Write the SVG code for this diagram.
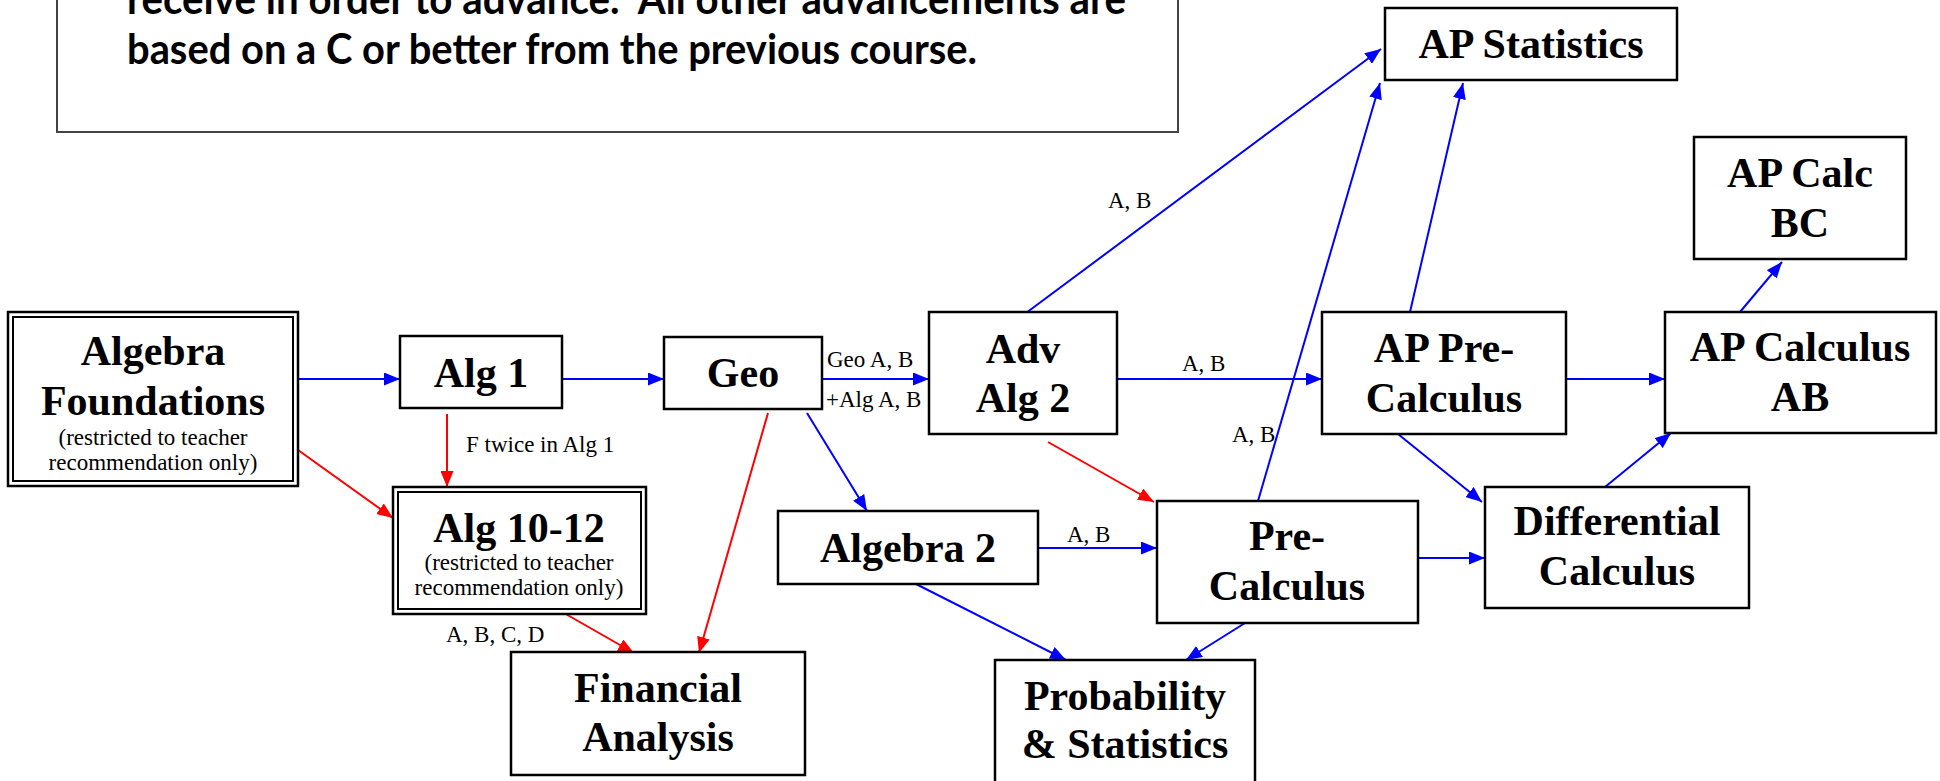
<svg xmlns="http://www.w3.org/2000/svg" width="1940" height="781" viewBox="0 0 1940 781">
<defs>
<style>
.box{fill:#fff;stroke:#000;stroke-width:2.5}
.note{fill:#fff;stroke:#444;stroke-width:2}
.t{font-family:"Liberation Serif","Times New Roman",serif;font-weight:bold;font-size:42px;text-anchor:middle;fill:#000}
.s{font-family:"Liberation Serif","Times New Roman",serif;font-size:23px;text-anchor:middle;fill:#000}
.l{font-family:"Liberation Serif","Times New Roman",serif;font-size:23px;fill:#000}
.n{font-family:Lato,"Open Sans",sans-serif;font-weight:bold;font-size:42px;fill:#000}
.b{stroke:#0000ff;stroke-width:2;fill:none;marker-end:url(#ab)}
.r{stroke:#ff0000;stroke-width:2;fill:none;marker-end:url(#ar)}
</style>
<marker id="ab" markerUnits="userSpaceOnUse" markerWidth="16" markerHeight="13" refX="16" refY="6.5" orient="auto"><path d="M0,0 L16,6.5 L0,13 z" fill="#0000ff"/></marker>
<marker id="ar" markerUnits="userSpaceOnUse" markerWidth="16" markerHeight="13" refX="16" refY="6.5" orient="auto"><path d="M0,0 L16,6.5 L0,13 z" fill="#ff0000"/></marker>
</defs>
<rect width="1940" height="781" fill="#fff"/>

<g id="note">
<rect class="note" x="57" y="-10" width="1121" height="142"/>
<text class="n" x="127" y="14" textLength="999" lengthAdjust="spacingAndGlyphs">receive in order to advance.&#160; All other advancements are</text>
<text class="n" x="127" y="64" textLength="850" lengthAdjust="spacingAndGlyphs">based on a C or better from the previous course.</text>
</g>

<g id="connectors">
<line class="b" x1="298" y1="379" x2="400" y2="379"/>
<line class="b" x1="562" y1="379" x2="664" y2="379"/>
<line class="b" x1="822" y1="379" x2="929" y2="379"/>
<line class="b" x1="1117" y1="379" x2="1322" y2="379"/>
<line class="b" x1="1566" y1="379" x2="1665" y2="379"/>
<line class="b" x1="807" y1="413" x2="867" y2="511"/>
<line class="b" x1="1038" y1="548" x2="1157" y2="548"/>
<line class="b" x1="1418" y1="558" x2="1485" y2="558"/>
<line class="b" x1="916" y1="584" x2="1066" y2="660"/>
<line class="b" x1="1245" y1="623" x2="1186" y2="660"/>
<line class="b" x1="1026" y1="313" x2="1381" y2="49"/>
<line class="b" x1="1258" y1="501" x2="1380" y2="83"/>
<line class="b" x1="1410" y1="312" x2="1463" y2="83"/>
<line class="b" x1="1398" y1="434" x2="1482" y2="502"/>
<line class="b" x1="1605" y1="487" x2="1671" y2="433"/>
<line class="b" x1="1740" y1="312" x2="1782" y2="262"/>
<line class="r" x1="447" y1="414" x2="447" y2="487"/>
<line class="r" x1="298" y1="450" x2="393" y2="518"/>
<line class="r" x1="564" y1="613" x2="634" y2="653"/>
<line class="r" x1="768" y1="413" x2="699" y2="653"/>
<line class="r" x1="1048" y1="442" x2="1154" y2="502"/>
<text class="l" x="827" y="367">Geo A, B</text>
<text class="l" x="826" y="407">+Alg A, B</text>
<text class="l" x="1182" y="371">A, B</text>
<text class="l" x="1108" y="208">A, B</text>
<text class="l" x="1232" y="442">A, B</text>
<text class="l" x="1067" y="542">A, B</text>
<text class="l" x="466" y="452">F twice in Alg 1</text>
<text class="l" x="446" y="642">A, B, C, D</text>
</g>

<g id="algebra-foundations">
<rect class="box" x="8" y="312" width="290" height="174"/>
<rect fill="none" stroke="#000" stroke-width="2" x="13" y="317" width="280" height="164"/>
<text class="t" x="153" y="365">Algebra</text>
<text class="t" x="153" y="415">Foundations</text>
<text class="s" x="153" y="445">(restricted to teacher</text>
<text class="s" x="153" y="470">recommendation only)</text>
</g>

<g id="alg1">
<rect class="box" x="400" y="336" width="162" height="72"/>
<text class="t" x="481" y="387">Alg 1</text>
</g>

<g id="geo">
<rect class="box" x="664" y="337" width="158" height="72"/>
<text class="t" x="743" y="387">Geo</text>
</g>

<g id="adv-alg2">
<rect class="box" x="929" y="312" width="188" height="122"/>
<text class="t" x="1023" y="363">Adv</text>
<text class="t" x="1023" y="412">Alg 2</text>
</g>

<g id="algebra2">
<rect class="box" x="778" y="511" width="260" height="73"/>
<text class="t" x="908" y="562">Algebra 2</text>
</g>

<g id="alg10-12">
<rect class="box" x="393" y="487" width="253" height="127"/>
<rect fill="none" stroke="#000" stroke-width="2" x="398" y="492" width="243" height="117"/>
<text class="t" x="519" y="542">Alg 10-12</text>
<text class="s" x="519" y="570">(restricted to teacher</text>
<text class="s" x="519" y="595">recommendation only)</text>
</g>

<g id="financial-analysis">
<rect class="box" x="511" y="652" width="294" height="123"/>
<text class="t" x="658" y="702">Financial</text>
<text class="t" x="658" y="751">Analysis</text>
</g>

<g id="prob-stats">
<rect class="box" x="995" y="660" width="260" height="140"/>
<text class="t" x="1125" y="710">Probability</text>
<text class="t" x="1125" y="758">&amp; Statistics</text>
</g>

<g id="pre-calculus">
<rect class="box" x="1157" y="501" width="261" height="122"/>
<text class="t" x="1287" y="550">Pre-</text>
<text class="t" x="1287" y="600">Calculus</text>
</g>

<g id="ap-pre-calculus">
<rect class="box" x="1322" y="312" width="244" height="122"/>
<text class="t" x="1444" y="362">AP Pre-</text>
<text class="t" x="1444" y="412">Calculus</text>
</g>

<g id="ap-statistics">
<rect class="box" x="1385" y="8" width="292" height="72"/>
<text class="t" x="1531" y="58">AP Statistics</text>
</g>

<g id="ap-calc-bc">
<rect class="box" x="1694" y="137" width="212" height="122"/>
<text class="t" x="1800" y="187">AP Calc</text>
<text class="t" x="1800" y="237">BC</text>
</g>

<g id="ap-calc-ab">
<rect class="box" x="1665" y="312" width="271" height="121"/>
<text class="t" x="1800" y="361">AP Calculus</text>
<text class="t" x="1800" y="411">AB</text>
</g>

<g id="differential-calculus">
<rect class="box" x="1485" y="487" width="264" height="121"/>
<text class="t" x="1617" y="535">Differential</text>
<text class="t" x="1617" y="585">Calculus</text>
</g>
</svg>
